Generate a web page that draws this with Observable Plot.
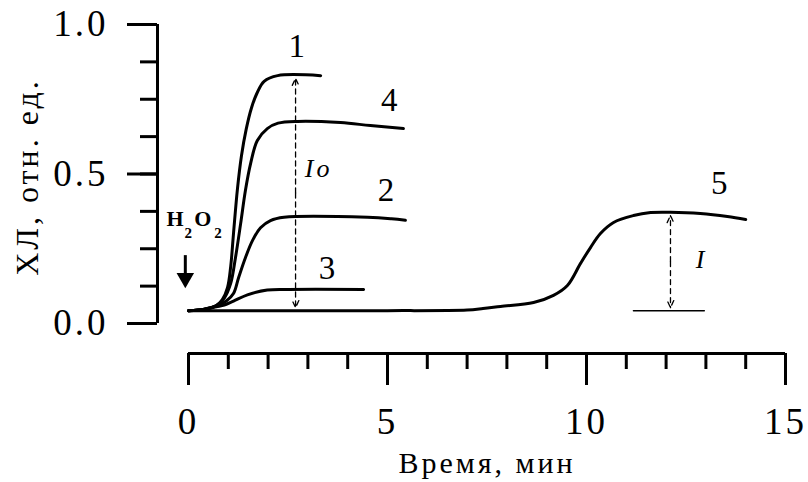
<!DOCTYPE html>
<html><head><meta charset="utf-8">
<script src="https://cdn.jsdelivr.net/npm/d3@7"></script>
<script src="https://cdn.jsdelivr.net/npm/@observablehq/plot@0.6"></script>
<style>
body{margin:0;background:#fff;}
#chart svg, #chart svg text{font-family:"Liberation Serif","Times New Roman",serif;}
#chart svg text{letter-spacing:3px;}
g[aria-label="y-axis tick label"] text{letter-spacing:4px;}
</style></head><body><div id="chart"></div>
<script>
// Curve data (time, min ; chemiluminescence, rel. units)
const c1T = [0, 0.4, 0.7, 0.85, 0.98, 1.06, 1.13, 1.23, 1.33, 1.45, 1.58, 1.72, 1.9, 2.24, 3.32];
const c1V = [0.043, 0.048, 0.06, 0.08, 0.12, 0.19, 0.30, 0.45, 0.56, 0.65, 0.72, 0.77, 0.81, 0.829, 0.829];
const c2T = [0, 0.4, 0.7, 0.95, 1.13, 1.26, 1.43, 1.61, 1.81, 2.06, 2.4, 4.5, 5.1, 5.45];
const c2V = [0.043, 0.048, 0.058, 0.075, 0.10, 0.154, 0.22, 0.278, 0.32, 0.344, 0.355, 0.355, 0.35, 0.345];
const c3T = [0, 0.4, 0.7, 0.9, 1.13, 1.48, 1.98, 2.5, 4.4];
const c3V = [0.043, 0.047, 0.056, 0.062, 0.075, 0.096, 0.112, 0.114, 0.114];
const c4T = [0, 0.4, 0.7, 0.9, 1.06, 1.18, 1.31, 1.43, 1.56, 1.73, 1.98, 2.25, 2.74, 3.82, 4.57, 5.4];
const c4V = [0.043, 0.048, 0.06, 0.085, 0.134, 0.22, 0.334, 0.445, 0.535, 0.612, 0.652, 0.67, 0.676, 0.672, 0.662, 0.652];
const c5T = [0, 1, 3, 5, 7, 7.4, 7.84, 8.67, 9.17, 9.52, 9.85, 10.1, 10.35, 10.68, 11.18, 11.61, 12.11, 12.86, 13.54, 14.0];
const c5V = [0.043, 0.043, 0.043, 0.043, 0.045, 0.05, 0.057, 0.07, 0.094, 0.127, 0.201, 0.254, 0.301, 0.338, 0.361, 0.371, 0.372, 0.368, 0.358, 0.348];

// Reference baseline for curve 5
const baseT = [11.18, 12.96];
const baseV = [0.043, 0.043];

// Amplitude arrows: [time, bottom, top]
const ioArrow = [2.69, 0.053, 0.82];
const iArrow = [12.11, 0.053, 0.361];

// Curve number labels
const labelText = ["1", "2", "3", "4", "5"];
const labelT = [2.76, 5.0, 3.52, 5.08, 13.37];
const labelV = [0.926, 0.445, 0.184, 0.746, 0.468];

// Italic amplitude labels
const ampText = ["Io", "I"];
const ampT = [3.27, 12.89];
const ampV = [0.518, 0.214];

// H2O2 addition marker (main letters and subscripts)
const h2o2Main = ["H", "O"];
const h2o2MainT = [-0.3, 0.4];
const h2o2Sub = ["2", "2"];
const h2o2SubT = [0.03, 0.78];
const h2o2MainV = 0.351;
const h2o2SubV = 0.303;
const addArrow = {t: -0.08, top: 0.227, bottom: 0.165, head: 0.152};

// Axes
const xMajor = [0, 5, 10, 15];
const xMinor = d3.range(0, 16, 1);
const yMajor = [0, 0.5, 1.0];
const yMinor = d3.range(0, 1.0001, 0.125);
const xTitle = "Время, мин";
const yTitle = "ХЛ, отн. ед.";

const curves = [[c1T, c1V, 1], [c2T, c2V, 2], [c3T, c3V, 3], [c4T, c4V, 4], [c5T, c5V, 5]];
const rows = curves.flatMap(([T, V, id]) => T.map((t, i) => ({t, v: V[i], id})));
const baseRows = baseT.map((t, i) => ({t, v: baseV[i]}));
const labels = labelText.map((s, i) => ({s, t: labelT[i], v: labelV[i]}));
const amps = ampText.map((s, i) => ({s, t: ampT[i], v: ampV[i]}));
const arrows = [ioArrow, iArrow].flatMap(([t, b, top]) => {
  const m = (b + top) / 2;
  return [{t, v1: m, v2: top}, {t, v1: m, v2: b}];
});
const hMain = h2o2Main.map((s, i) => ({s, t: h2o2MainT[i], v: h2o2MainV}));
const hSub = h2o2Sub.map((s, i) => ({s, t: h2o2SubT[i], v: h2o2SubV}));

const font = "'Liberation Serif', 'Times New Roman', serif";

const chart = Plot.plot({
  width: 808,
  height: 482,
  marginLeft: 157,
  marginRight: 23,
  marginTop: 24,
  marginBottom: 129,
  insetLeft: 31,
  insetBottom: 30,
  style: {fontFamily: font, color: "black", background: "white"},
  x: {domain: [0, 15]},
  y: {domain: [0, 1]},
  marks: [
    // axis lines
    Plot.ruleY([0], {x1: 0, x2: 15, dy: 30, stroke: "black", strokeWidth: 3}),
    Plot.ruleX([0], {y1: 0, y2: 1, dx: -31, stroke: "black", strokeWidth: 3}),
    Plot.axisX({ticks: xMinor, tickSize: 16, strokeWidth: 3, text: null, label: null}),
    Plot.axisX({ticks: xMajor, tickSize: 32, strokeWidth: 3, tickPadding: 22, fontSize: 37, tickFormat: d => String(d), label: null}),
    Plot.axisY({ticks: yMinor, tickSize: 17, strokeWidth: 3, text: null, label: null}),
    Plot.axisY({ticks: yMajor, tickSize: 30, strokeWidth: 3, tickPadding: 19, fontSize: 37, tickFormat: d3.format(".1f"), label: null}),
    // axis titles
    Plot.text([xTitle], {x: 7.5, frameAnchor: "bottom", dy: 110, text: d => d, fontSize: 30, lineAnchor: "middle", textAnchor: "middle"}),
    Plot.text([yTitle], {y: 0.49, frameAnchor: "left", dx: -130, rotate: -90, text: d => d, fontSize: 32, lineAnchor: "middle", textAnchor: "middle"}),
    // curves
    Plot.line(rows, {x: "t", y: "v", z: "id", stroke: "black", strokeWidth: 3, curve: "catmull-rom"}),
    Plot.line(baseRows, {x: "t", y: "v", stroke: "black", strokeWidth: 1.5}),
    // dashed amplitude arrows
    Plot.arrow(arrows, {x1: "t", x2: "t", y1: "v1", y2: "v2", stroke: "black", strokeWidth: 1.3, strokeDasharray: "5,4", headLength: 9, headAngle: 50}),
    // labels
    Plot.text(labels, {x: "t", y: "v", text: "s", fontSize: 33}),
    Plot.text(amps, {x: "t", y: "v", text: "s", fontSize: 26, fontStyle: "italic"}),
    // H2O2 marker
    Plot.text(hMain, {x: "t", y: "v", text: "s", fontSize: 22, fontWeight: "bold"}),
    Plot.text(hSub, {x: "t", y: "v", text: "s", fontSize: 15, fontWeight: "bold"}),
    Plot.ruleX([addArrow], {x: "t", y1: "top", y2: "bottom", stroke: "black", strokeWidth: 3}),
    Plot.dot([addArrow], {x: "t", y: "head", symbol: "triangle", rotate: 180, r: 6.5, fill: "black", stroke: "none"})
  ]
});
document.getElementById("chart").appendChild(chart);
</script></body></html>
